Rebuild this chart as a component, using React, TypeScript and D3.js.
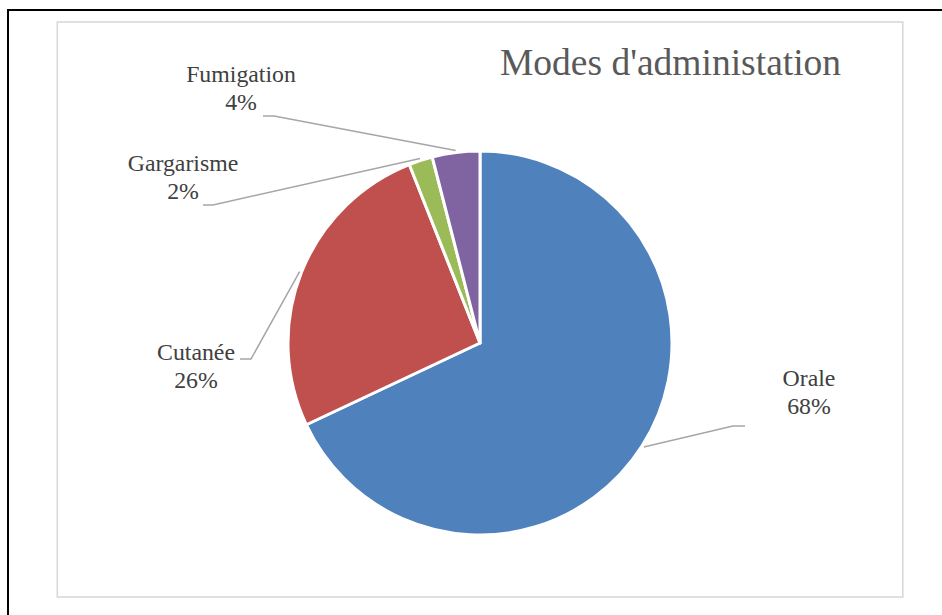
import React from "react";
import * as d3 from "d3";

const categories = ["Orale", "Cutanée", "Gargarisme", "Fumigation"];
const values = [68, 26, 2, 4];
const percentLabels = ["68%", "26%", "2%", "4%"];
const colors = ["#4F81BD", "#C0504D", "#9BBB59", "#8064A2"];
const title = "Modes d'administation";

// layout (label anchor + leader elbow)
const labelLayout = [
  { x: 809, y: 386, elbowX: 733, elbowY: 426, endX: 745 },
  { x: 196, y: 360, elbowX: 251, elbowY: 359, endX: 240 },
  { x: 183, y: 171, elbowX: 213, elbowY: 205, endX: 203 },
  { x: 241, y: 82, elbowX: 274, elbowY: 116, endX: 263 },
];

const W = 942;
const H = 615;
const cx = 480;
const cy = 343;
const R = 192;

export default function App() {
  const pie = d3.pie<number>().sort(null).value((d) => d);
  const arcs = pie(values);
  const arcGen = d3.arc<d3.PieArcDatum<number>>().innerRadius(0).outerRadius(R);
  const font = "'Liberation Serif', 'Times New Roman', serif";

  return (
    <svg
      width={W}
      height={H}
      style={{ position: "absolute", left: 0, top: 0, background: "#fff" }}
    >
      <rect x={0} y={0} width={W} height={H} fill="#fff" />
      <rect x={8} y={10} width={W + 10} height={H + 10} fill="none" stroke="#000" strokeWidth={2} />
      <rect x={57.3} y={22} width={845.5} height={575} fill="none" stroke="#d9d9d9" strokeWidth={1.6} />
      <text x={500} y={75} fontFamily={font} fontSize={37.5} fill="#595959">
        {title}
      </text>
      <g transform={`translate(${cx},${cy})`}>
        {arcs.map((a, i) => (
          <path key={i} d={arcGen(a) || ""} fill={colors[i]} stroke="#fff" strokeWidth={3} strokeLinejoin="round" />
        ))}
      </g>
      {arcs.map((a, i) => {
        const mid = (a.startAngle + a.endAngle) / 2;
        const r2 = R + 2;
        const sx = cx + Math.sin(mid) * r2;
        const sy = cy - Math.cos(mid) * r2;
        const L = labelLayout[i];
        return (
          <polyline
            key={"l" + i}
            points={`${sx},${sy} ${L.elbowX},${L.elbowY} ${L.endX},${L.elbowY}`}
            fill="none"
            stroke="#a6a6a6"
            strokeWidth={1.5}
          />
        );
      })}
      {categories.map((c, i) => {
        const L = labelLayout[i];
        return (
          <text key={"t" + i} x={L.x} y={L.y} fontFamily={font} fontSize={23.8} fill="#404040" textAnchor="middle">
            <tspan x={L.x}>{c}</tspan>
            <tspan x={L.x} dy={27.5}>{percentLabels[i]}</tspan>
          </text>
        );
      })}
    </svg>
  );
}
